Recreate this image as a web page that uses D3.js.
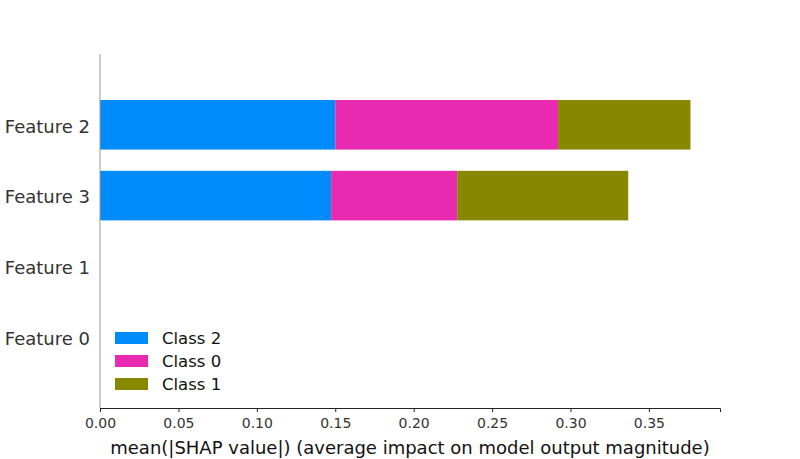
<!DOCTYPE html>
<html>
<head>
<meta charset="utf-8">
<script src="https://cdn.jsdelivr.net/npm/d3@7"></script>
<style>
  body { margin: 0; background: #fff; }
  text { font-family: "DejaVu Sans", sans-serif; }
</style>
</head>
<body>
<div id="chart"></div>
<script>
// features listed bottom to top
const features = ['Feature 0', 'Feature 1', 'Feature 3', 'Feature 2'];
// stacking order left to right
const classes = ['Class 2', 'Class 0', 'Class 1'];
const classColors = ['#008bfb', '#e82ab0', '#878700'];
const class2Values = [0, 0, 0.1474, 0.150];
const class0Values = [0, 0, 0.0804, 0.1421];
const class1Values = [0, 0, 0.109, 0.0844];
const xTicks = [0, 0.05, 0.10, 0.15, 0.20, 0.25, 0.30, 0.35];
const xLabel = 'mean(|SHAP value|) (average impact on model output magnitude)';

const width = 800, height = 459;
const margin = { left: 100, right: 80, top: 54, bottom: 51 };

const svg = d3.select('#chart').append('svg')
  .attr('width', width)
  .attr('height', height);

const rows = features.map((f, i) => ({
  feature: f,
  'Class 2': class2Values[i],
  'Class 0': class0Values[i],
  'Class 1': class1Values[i]
}));

const stacked = d3.stack().keys(classes)(rows);
const total = d3.max(rows, r => classes.reduce((s, k) => s + r[k], 0));

const x = d3.scaleLinear()
  .domain([0, total * 1.05])
  .range([margin.left, width - margin.right]);

const y = d3.scaleLinear()
  .domain([-1, features.length])
  .range([height - margin.bottom, margin.top]);

const barH = (y(0) - y(1)) * 0.7;

// bars
svg.append('g')
  .selectAll('g')
  .data(stacked)
  .join('g')
    .attr('fill', (d, i) => classColors[i])
  .selectAll('rect')
  .data(d => d.map((v, i) => ({ v, i })))
  .join('rect')
    .attr('x', d => x(d.v[0]))
    .attr('width', d => x(d.v[1]) - x(d.v[0]))
    .attr('y', d => y(d.i) - barH / 2)
    .attr('height', barH);

// left spine
svg.append('line')
  .attr('x1', x(0)).attr('x2', x(0))
  .attr('y1', y.range()[1]).attr('y2', y.range()[0])
  .attr('stroke', '#999')
  .attr('stroke-width', 1);

// feature labels
svg.append('g')
  .selectAll('text')
  .data(features)
  .join('text')
    .attr('x', 90)
    .attr('y', (d, i) => y(i) + 1.5)
    .attr('dy', '0.35em')
    .attr('text-anchor', 'end')
    .attr('fill', '#333')
    .style('font-size', '18px')
    .text(d => d);

// x axis
const xAxis = svg.append('g')
  .attr('transform', `translate(0,${height - margin.bottom})`)
  .call(d3.axisBottom(x).tickValues(xTicks).tickFormat(d3.format('.2f')).tickSize(4).tickPadding(6));

xAxis.select('.domain').attr('stroke', '#222');
xAxis.selectAll('.tick line').attr('stroke', '#222');
xAxis.selectAll('.tick text')
  .attr('fill', '#333')
  .style('font-size', '14px')
  .style('font-family', '"DejaVu Sans", sans-serif');

svg.append('text')
  .attr('x', (x.range()[0] + x.range()[1]) / 2)
  .attr('y', 454)
  .attr('text-anchor', 'middle')
  .attr('fill', '#111')
  .style('font-size', '18px')
  .text(xLabel);

// legend
const legend = svg.append('g')
  .attr('transform', 'translate(115,332)');

const item = legend.selectAll('g')
  .data(classes)
  .join('g')
    .attr('transform', (d, i) => `translate(0,${i * 23})`);

item.append('rect')
  .attr('width', 33)
  .attr('height', 12)
  .attr('fill', (d, i) => classColors[i]);

item.append('text')
  .attr('x', 47)
  .attr('y', 6)
  .attr('dy', '0.35em')
  .attr('fill', '#111')
  .style('font-size', '16.5px')
  .text(d => d);
</script>
</body>
</html>
